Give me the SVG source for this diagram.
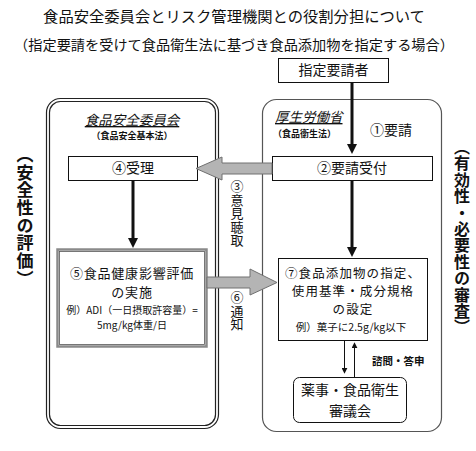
<svg xmlns="http://www.w3.org/2000/svg" width="476" height="451" viewBox="0 0 476 451">
<style>
text{font-family:"Noto Sans CJK JP","Noto Sans",sans-serif;fill:#111}
.c{text-anchor:middle}
.box{fill:#fff;stroke:#111;stroke-width:1}
.blk{stroke:#111;stroke-width:3;fill:none}
.thin{stroke:#111;stroke-width:1;fill:none}
.blockarrow{fill:#b4b4b4;stroke:#707070;stroke-width:1}
.vert{writing-mode:vertical-rl;font-weight:bold}
.vlab{writing-mode:vertical-rl;font-size:13px;letter-spacing:0.5px}
.hdr{font-style:italic;text-decoration:underline;font-size:13.5px}
</style>
<defs>
<marker id="ah" viewBox="0 0 10 10" markerWidth="10" markerHeight="10" refX="2" refY="5" orient="auto" markerUnits="userSpaceOnUse">
<path d="M0,0 L10,5 L0,10 z" fill="#111"/>
</marker>
<marker id="ahs" viewBox="0 0 10 10" markerWidth="6" markerHeight="6" refX="2" refY="5" orient="auto" markerUnits="userSpaceOnUse">
<path d="M0,0 L10,5 L0,10 z" fill="#111"/>
</marker>
</defs>
<rect width="476" height="451" fill="#fff"/>

<g id="title">
<text class="c" x="234" y="22" font-size="15.3">食品安全委員会とリスク管理機関との役割分担について</text>
<text class="c" x="234" y="50" font-size="14.2">（指定要請を受けて食品衛生法に基づき食品添加物を指定する場合）</text>
</g>

<g id="panel-fsc">
<rect x="46.5" y="98.5" width="172" height="330" rx="14" fill="none" stroke="#222" stroke-width="1.2"/>
<rect x="49.5" y="101.5" width="166" height="324" rx="11" fill="none" stroke="#222" stroke-width="1.2"/>
<text class="c" x="132" y="125"><tspan class="hdr">食品安全委員会</tspan><tspan x="132" y="139" font-size="9" font-weight="bold">（食品安全基本法）</tspan></text>
</g>

<g id="panel-mhlw">
<rect x="262.5" y="99.5" width="179" height="332" rx="14" fill="none" stroke="#555" stroke-width="1.2"/>
<text x="275" y="122"><tspan class="hdr">厚生労働省</tspan><tspan x="273" y="137" font-size="9" font-weight="bold">（食品衛生法）</tspan></text>
</g>

<g id="label-left">
<text class="vert" x="25" y="146" font-size="17" letter-spacing="0.7">（安全性の評価）</text>
</g>
<g id="label-right">
<text class="vert" x="462" y="139" font-size="16" letter-spacing="0.4">（有効性・必要性の審査）</text>
</g>

<g id="applicant">
<rect class="box" x="278.5" y="58.5" width="110" height="24"/>
<text class="c" x="333.5" y="75" font-size="14">指定要請者</text>
</g>

<g id="receipt">
<rect class="box" x="272.5" y="156.5" width="160" height="24"/>
<text class="c" x="352" y="173" font-size="14">②要請受付</text>
</g>

<g id="accept">
<rect class="box" x="68.5" y="156.5" width="129" height="24"/>
<text class="c" x="133" y="173" font-size="14">④受理</text>
</g>

<g id="assessment">
<rect x="57.5" y="249.5" width="149" height="97" fill="#fff" stroke="#8a8a8a" stroke-width="2.5"/>
<rect x="59.5" y="251.5" width="145" height="93" fill="none" stroke="#555" stroke-width="0.8"/>
<text class="c" font-size="13" letter-spacing="0.8"><tspan x="132" y="278">⑤食品健康影響評価</tspan><tspan x="132" y="297">の実施</tspan><tspan x="132" y="314" font-size="10" letter-spacing="0">例）ADI（一日摂取許容量）=</tspan><tspan x="132" y="329" font-size="10" letter-spacing="0">5mg/kg体重/日</tspan></text>
</g>

<g id="designation">
<rect class="box" x="278.5" y="258.5" width="149" height="82"/>
<text class="c" font-size="12.5" letter-spacing="1.1"><tspan x="353" y="277.5">⑦食品添加物の指定、</tspan><tspan x="353" y="295.7">使用基準・成分規格</tspan><tspan x="353" y="313.9">の設定</tspan><tspan x="351" y="331" font-size="10.5" letter-spacing="0">例）菓子に2.5g/kg以下</tspan></text>
</g>

<g id="council">
<rect x="293.5" y="377.5" width="113" height="45" rx="6" fill="#fff" stroke="#111" stroke-width="1"/>
<text class="c" font-size="14"><tspan x="350" y="395">薬事・食品衛生</tspan><tspan x="350" y="415.5">審議会</tspan></text>
</g>

<g id="connectors">
<line class="blk" x1="352" y1="82" x2="352" y2="146" marker-end="url(#ah)"/>
<line class="blk" x1="352" y1="180" x2="352" y2="249" marker-end="url(#ah)"/>
<line class="blk" x1="133" y1="180" x2="133" y2="240" marker-end="url(#ah)"/>
<line class="thin" x1="344.5" y1="341" x2="344.5" y2="369" marker-end="url(#ahs)"/>
<line class="thin" x1="354.5" y1="377" x2="354.5" y2="347" marker-end="url(#ahs)"/>
<polygon class="blockarrow" points="196,168.5 222,157 222,163 272,163 272,174 222,174 222,180"/>
<polygon class="blockarrow" points="207,277 250,277 250,269 277,282.5 250,295 250,288 207,288"/>
<text x="370" y="135" font-size="14">①要請</text>
<text class="vlab" x="237" y="180">③意見聴取</text>
<text class="vlab" x="237" y="291">⑥通知</text>
<text x="372" y="365" font-size="10.5" font-weight="bold">諮問・答申</text>
</g>
</svg>
